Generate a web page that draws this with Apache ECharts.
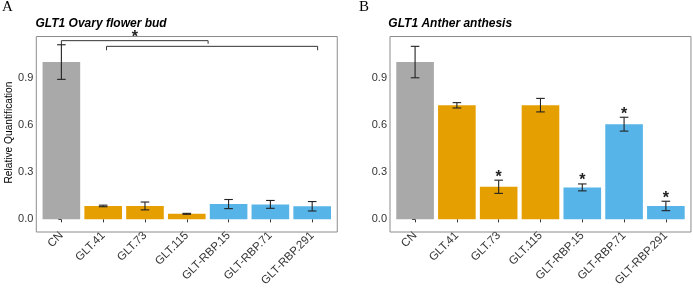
<!DOCTYPE html>
<html>
<head>
<meta charset="utf-8">
<script src="https://cdn.jsdelivr.net/npm/echarts@6/dist/echarts.min.js"></script>
<style>
  html, body { margin: 0; padding: 0; background: #fff; }
  #main { width: 693px; height: 289px; }
</style>
</head>
<body>
<div id="main"></div>
<script>
// data
var categories = ['CN', 'GLT.41', 'GLT.73', 'GLT.115', 'GLT-RBP.15', 'GLT-RBP.71', 'GLT-RBP.291'];
var ovaryMean = [1.0, 0.085, 0.085, 0.035, 0.097, 0.095, 0.083];
var ovaryErr = [0.11, 0.005, 0.025, 0.003, 0.029, 0.025, 0.030];
var antherMean = [1.0, 0.725, 0.207, 0.726, 0.203, 0.605, 0.085];
var antherErr = [0.10, 0.017, 0.042, 0.043, 0.022, 0.044, 0.030];
var antherStars = ['GLT.73', 'GLT-RBP.15', 'GLT-RBP.71', 'GLT-RBP.291'];
var yTicks = [0, 0.3, 0.6, 0.9];
// significance brackets on panel A: [from, to, bar height, left drop, right drop, star]
var ovaryBrackets = [
  [0, 3.51, 1.136, 1.11, 1.116, true],
  [1.08, 6.13, 1.10, 1.075, 1.075, false]
];

var GRAY = '#a9a9a9', ORANGE = '#e69f00', BLUE = '#56b4e9';
function barColor(name) {
  if (name === 'CN') return GRAY;
  if (name.indexOf('GLT-RBP') === 0) return BLUE;
  return ORANGE;
}

// layout
var step = 41.8;
var pad = step * 0.1;
var panels = [{ left: 36.3 }, { left: 390 }];
var plotTop = 36.5, plotH = 195.5;
var yMin = -0.0594, yMax = 1.1625;

var myChart = echarts.init(document.getElementById('main'));

function errRender(params, api) {
  var i = api.value(0);
  var lo = api.coord([i, api.value(1)]);
  var hi = api.coord([i, api.value(2)]);
  var w = 4.3;
  var st = { stroke: '#222', lineWidth: 1.1 };
  return {
    type: 'group',
    children: [
      { type: 'line', shape: { x1: lo[0], y1: lo[1], x2: hi[0], y2: hi[1] }, style: st },
      { type: 'line', shape: { x1: lo[0] - w, y1: lo[1], x2: lo[0] + w, y2: lo[1] }, style: st },
      { type: 'line', shape: { x1: hi[0] - w, y1: hi[1], x2: hi[0] + w, y2: hi[1] }, style: st }
    ]
  };
}

function starRender(params, api) {
  var p = api.coord([api.value(0), api.value(1)]);
  return {
    type: 'text',
    style: {
      text: '*', x: p[0], y: p[1] - 3,
      align: 'center', verticalAlign: 'middle',
      font: 'bold 16px "Liberation Sans"', fill: '#222'
    }
  };
}

var grids = [], xAxes = [], yAxes = [], series = [], graphics = [];
panels.forEach(function (pn, g) {
  grids.push({ left: pn.left + pad, top: plotTop, width: step * 7, height: plotH });
  graphics.push({
    type: 'rect', shape: { x: pn.left, y: plotTop, width: step * 7.2, height: plotH },
    style: { fill: null, stroke: '#8c8c8c', lineWidth: 1 }, z: 10
  });
  xAxes.push({
    type: 'category', gridIndex: g, data: categories,
    axisLine: { show: false },
    axisTick: { show: true, alignWithLabel: true, length: 3, lineStyle: { color: '#333' } },
    axisLabel: { rotate: 45, margin: 5, fontSize: 11.5, color: '#333', fontFamily: 'Liberation Sans', interval: 0 }
  });
  xAxes.push({ type: 'value', gridIndex: g, min: -0.5, max: 6.5, show: false });
  yAxes.push({
    type: 'value', gridIndex: g, min: yMin, max: yMax, offset: pad,
    name: g === 0 ? 'Relative Quantification' : '',
    nameLocation: 'middle', nameGap: 21,
    nameTextStyle: { fontSize: 10.2, color: '#000', fontFamily: 'Liberation Sans' },
    splitLine: { show: false },
    axisLine: { show: false },
    axisTick: { show: true, length: 3, customValues: yTicks, lineStyle: { color: '#333' } },
    axisLabel: {
      customValues: yTicks, margin: 3, fontSize: 11, color: '#333', fontFamily: 'Liberation Sans',
      formatter: function (v) { return v.toFixed(1); }
    }
  });
});

var means = [ovaryMean, antherMean], errs = [ovaryErr, antherErr];
means.forEach(function (m, g) {
  series.push({
    type: 'bar', xAxisIndex: g * 2, yAxisIndex: g, barWidth: '90%',
    data: m.map(function (v, i) { return { value: v, itemStyle: { color: barColor(categories[i]) } }; }),
    silent: true
  });
  series.push({
    type: 'custom', xAxisIndex: g * 2, yAxisIndex: g, renderItem: errRender,
    encode: { x: 0, y: [1, 2] }, z: 5,
    data: m.map(function (v, i) { return [i, v - errs[g][i], v + errs[g][i]]; })
  });
});

// brackets on panel A
ovaryBrackets.forEach(function (b) {
  series.push({
    type: 'line', xAxisIndex: 1, yAxisIndex: 0, symbol: 'none', silent: true,
    lineStyle: { color: '#333', width: 1 },
    data: [[b[0], b[3]], [b[0], b[2]], [b[1], b[2]], [b[1], b[4]]]
  });
});
series.push({
  type: 'custom', xAxisIndex: 1, yAxisIndex: 0, renderItem: starRender, clip: false, z: 11,
  data: ovaryBrackets.filter(function (b) { return b[5]; })
    .map(function (b) { return [(b[0] + b[1]) / 2, b[2]]; })
});
// stars on panel B
series.push({
  type: 'custom', xAxisIndex: 2, yAxisIndex: 1, renderItem: starRender, clip: false, z: 6,
  data: antherStars.map(function (c) {
    var i = categories.indexOf(c);
    return [i, antherMean[i] + antherErr[i]];
  })
});

var option = {
  animation: false,
  title: [
    { text: 'A', left: 2, top: 0, padding: 0, textStyle: { fontSize: 15, fontWeight: 'normal', fontFamily: 'Liberation Serif', color: '#000' } },
    { text: 'GLT1 Ovary flower bud', left: 35.5, top: 17.5, padding: 0, textStyle: { fontSize: 12, fontWeight: 'bold', fontStyle: 'italic', fontFamily: 'Liberation Sans', color: '#000' } },
    { text: 'B', left: 359, top: 0, padding: 0, textStyle: { fontSize: 15, fontWeight: 'normal', fontFamily: 'Liberation Serif', color: '#000' } },
    { text: 'GLT1 Anther anthesis', left: 388.3, top: 17.5, padding: 0, textStyle: { fontSize: 12, fontWeight: 'bold', fontStyle: 'italic', fontFamily: 'Liberation Sans', color: '#000' } }
  ],
  grid: grids,
  xAxis: xAxes,
  yAxis: yAxes,
  graphic: graphics,
  series: series
};

myChart.setOption(option);
</script>
</body>
</html>
